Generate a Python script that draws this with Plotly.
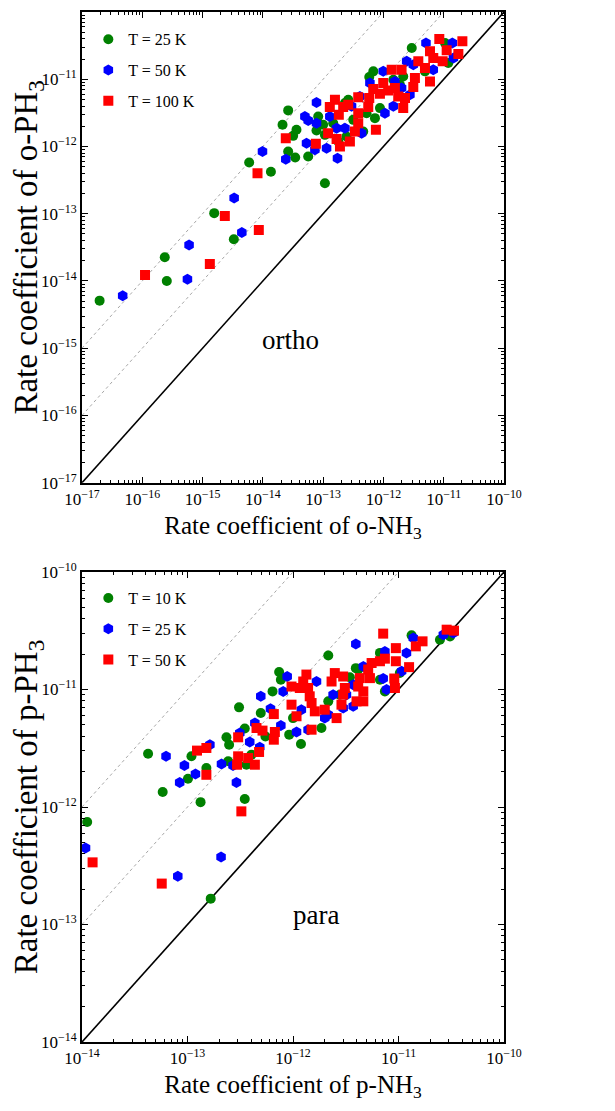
import plotly.graph_objects as go

# ---------------- ortho (top panel) ----------------
o_25K_nh3 = [2.95e-12, 1.05e-11, 6.8e-13, 5.82e-13, 2.13e-12, 1.19e-11, 4.89e-12, 1.88e-12, 8.75e-13, 7.23e-13,
             5.25e-13, 2.61e-13, 2.30e-13, 3.16e-13, 8.28e-14, 1.0e-13, 7.76e-14, 1.07e-13, 1.47e-13, 2.44e-13,
             2.63e-14, 2.12e-14, 3.18e-14, 3.61e-14, 2.63e-14, 3.44e-14, 5.65e-14, 5.93e-15, 1.36e-14, 1.07e-13,
             1.56e-15, 3.3e-15, 2.36e-16, 1.96e-17, 2.55e-16, 1.46e-12, 4.62e-13, 1.78e-13]
o_25K_ph3 = [2.91e-11, 3.45e-11, 1.31e-11, 1.08e-11, 1.10e-11, 1.74e-11, 1.31e-11, 8.28e-12, 3.72e-12, 2.64e-12,
             3.13e-12, 4.95e-12, 4.42e-12, 2.49e-12, 2.80e-12, 2.1e-12, 1.73e-12, 1.49e-12, 2.22e-12, 1.41e-12,
             3.44e-12, 2.1e-12, 1.44e-12, 1.77e-12, 8.43e-13, 6.86e-13, 7.1e-13, 5.78e-13, 4.2e-13, 2.84e-13,
             1.02e-13, 4.17e-14, 2.25e-14, 5.1e-15, 1.0e-14, 9.84e-12, 1.67e-12, 1.19e-12]

o_50K_nh3 = [5.08e-12, 1.39e-11, 2.43e-12, 3.13e-12, 9.93e-13, 5.97e-13, 1.55e-12, 2.75e-12, 1.46e-12, 1.06e-12,
             4.07e-13, 4.35e-13, 2.30e-13, 1.67e-13, 1.29e-13, 7.76e-14, 4.98e-14, 5.65e-14, 7.76e-14, 5.3e-14,
             7.3e-14, 1.14e-13, 1.73e-13, 9.86e-15, 2.40e-14, 3.34e-15, 4.48e-15, 5.97e-16, 4.73e-17, 5.61e-16,
             2.0e-12, 2.96e-13, 6.71e-12, 1.45e-11]
o_50K_ph3 = [3.45e-11, 3.45e-11, 1.85e-11, 1.64e-11, 1.31e-11, 8.77e-12, 9.29e-12, 5.88e-12, 3.95e-12, 3.13e-12,
             5.55e-12, 1.58e-12, 1.87e-12, 1.87e-12, 2.8e-12, 4.52e-12, 2.8e-12, 2.44e-12, 2.22e-12, 1.12e-12,
             8.92e-13, 9.44e-13, 6.7e-13, 8.43e-13, 6.47e-13, 1.72e-13, 5.25e-14, 3.44e-14, 6.05e-15, 1.06e-14,
             7.38e-12, 3.95e-12, 1.38e-11, 2.07e-11]

o_100K_nh3 = [8.45e-12, 2.04e-11, 5.92e-12, 6.71e-12, 1.12e-11, 9.6e-12, 1.75e-11, 3.79e-12, 4.89e-12, 5.92e-12,
              3.33e-12, 3.13e-12, 1.37e-12, 2.0e-12, 9.93e-13, 1.2e-12, 1.55e-12, 1.76e-12, 2.28e-12, 8.75e-13,
              6.78e-13, 5.82e-13, 5.6e-13, 3.82e-13, 3.82e-13, 3.82e-13, 3.36e-13, 2.78e-13, 2.61e-13, 2.15e-13,
              1.57e-13, 1.29e-13, 1.82e-13, 1.21e-13, 1.67e-13, 1.9e-13, 7.5e-13, 7.57e-14, 2.40e-14, 8.15e-15,
              2.34e-15, 8.57e-15, 1.32e-15, 1.11e-16, 2.13e-12]
o_100K_ph3 = [3.96e-11, 3.66e-11, 2.6e-11, 2.07e-11, 2.69e-11, 1.85e-11, 2.37e-11, 1.85e-11, 1.47e-11, 9.29e-12,
              1.04e-11, 7.64e-12, 1.38e-11, 1.38e-11, 8.77e-12, 6.82e-12, 7.38e-12, 5.55e-12, 5.25e-12, 6.08e-12,
              7.15e-12, 5.25e-12, 3.85e-12, 5.42e-12, 3.13e-12, 2.22e-12, 1.67e-12, 1.19e-12, 4.17e-12, 3.85e-12,
              4.95e-12, 3.85e-12, 2.96e-12, 1.58e-12, 1.29e-12, 1.0e-12, 1.77e-12, 1.1e-12, 1.33e-12, 4.01e-13,
              9.29e-14, 5.74e-14, 1.79e-14, 1.23e-14, 3.72e-12]

# ---------------- para (bottom panel) ----------------
p_10K_nh3 = [1.33e-11, 2.47e-11, 3.08e-11, 2.16e-12, 6.67e-12, 7.43e-12, 6.67e-12, 1.03e-11, 3.94e-12, 3.46e-12,
             7.39e-13, 7.67e-13, 6.4e-13, 1.0e-12, 9.2e-13, 1.19e-12, 1.86e-12, 2.16e-12, 2.78e-12, 3.08e-13,
             4.95e-13, 5.48e-13, 3.49e-13, 2.34e-13, 2.48e-13, 2.43e-13, 3.62e-13, 4.04e-13, 1.09e-13, 1.01e-13,
             1.51e-13, 4.23e-14, 5.82e-14, 1.33e-13, 3.49e-13, 1.12e-14, 1.66e-13, 4.15e-12]
p_10K_ph3 = [2.89e-11, 2.65e-11, 2.83e-11, 1.95e-11, 1.21e-11, 9.64e-12, 2.05e-11, 1.38e-11, 1.52e-11, 1.27e-11,
             1.41e-11, 1.21e-11, 9.64e-12, 5.71e-12, 4.13e-12, 3.44e-12, 4.7e-12, 7.93e-12, 9.04e-12, 7.05e-12,
             6.31e-12, 3.99e-12, 4.65e-12, 3.92e-12, 3.39e-12, 2.45e-12, 2.29e-12, 2.79e-12, 2.7e-12, 1.74e-12,
             2.15e-12, 2.84e-12, 1.34e-12, 1.1e-12, 1.17e-12, 7.45e-13, 1.66e-13, 1.48e-11]

p_25K_nh3 = [2.66e-11, 3.3e-11, 1.38e-11, 3.94e-12, 7.43e-12, 1.19e-11, 1.07e-11, 7.71e-12, 7.16e-12, 4.64e-12,
             3.72e-12, 3.21e-12, 2.99e-12, 3.72e-12, 2.4e-12, 2.16e-12, 1.67e-12, 8.81e-13, 8.07e-13, 1.2e-12,
             1.08e-12, 1.39e-12, 4.95e-13, 6.12e-13, 7.67e-13, 4.35e-13, 3.13e-13, 3.89e-13, 4.84e-13, 2.1e-13,
             2.7e-13, 1.63e-13, 9.35e-14, 1.19e-13, 8.43e-14, 6.26e-14, 2.91e-13, 1.08e-14, 8.09e-14, 2.08e-13,
             2.0e-12]
p_25K_ph3 = [2.93e-11, 3.03e-11, 2.74e-11, 2.44e-11, 2.11e-11, 2.05e-11, 1.43e-11, 9.98e-12, 1.24e-11, 1.57e-11,
             1.1e-11, 9.04e-12, 6.97e-12, 7.19e-12, 9.04e-12, 6.11e-12, 1.17e-11, 1.29e-11, 9.64e-12, 6.73e-12,
             4.35e-12, 4.55e-12, 8.75e-12, 6.87e-12, 4.95e-12, 5.19e-12, 4.27e-12, 3.57e-12, 3.22e-12, 2.32e-12,
             2.26e-12, 3.39e-12, 2.26e-12, 1.91e-12, 1.62e-12, 2.7e-12, 1.62e-12, 4.48e-13, 2.57e-13, 3.75e-13,
             5.71e-12]

p_50K_nh3 = [2.86e-11, 3.36e-11, 7.16e-12, 1.69e-11, 1.46e-11, 9.44e-12, 9.44e-12, 7.43e-12, 6.67e-12, 1.26e-11,
             9.12e-12, 9.25e-12, 5.56e-12, 5.16e-12, 5.36e-12, 4.3e-12, 4.15e-12, 4.64e-12, 4.0e-12, 4.64e-12,
             2.99e-12, 2.88e-12, 3.1e-12, 2.59e-12, 2.49e-12, 2.99e-12, 2.32e-12, 2.0e-12, 1.61e-12, 1.34e-12,
             1.25e-12, 1.39e-12, 1.44e-12, 1.5e-12, 1.16e-12, 9.68e-13, 9.68e-13, 1.08e-12, 1.5e-12, 6.58e-13,
             6.73e-13, 6.58e-13, 4.51e-13, 5.14e-13, 3.02e-13, 1.51e-13, 1.23e-13, 1.51e-13, 3.02e-13, 2.95e-13,
             3.76e-13, 4.35e-13, 4.77e-13, 3.24e-13, 1.26e-14, 5.7e-14]
p_50K_ph3 = [3.23e-11, 3.17e-11, 2.99e-11, 2.57e-11, 2.33e-11, 2.25e-11, 1.74e-11, 1.83e-11, 1.74e-11, 1.55e-11,
             1.24e-11, 1.03e-11, 1.68e-11, 1.48e-11, 1.25e-11, 1.25e-11, 1.06e-11, 9.64e-12, 7.93e-12, 7.93e-12,
             9.04e-12, 7.43e-12, 1.03e-11, 5.71e-12, 1.38e-11, 1.29e-11, 1.17e-11, 6.73e-12, 6.52e-12, 1.34e-11,
             1.17e-11, 1.03e-11, 8.75e-12, 7.67e-12, 1.03e-11, 1.06e-11, 7.43e-12, 5.92e-12, 4.55e-12, 6.18e-12,
             4.35e-12, 3.74e-12, 4.7e-12, 4.47e-12, 3.92e-12, 3.18e-12, 3.02e-12, 1.88e-12, 2.7e-12, 2.29e-12,
             2.61e-12, 2.29e-12, 2.94e-12, 9.18e-13, 3.38e-13, 2.23e-13]

# axis decades and labels
top_decades = [-17, -16, -15, -14, -13, -12, -11, -10]
bot_decades = [-14, -13, -12, -11, -10]
ratios = [1, 10, 100]  # reference lines y = k * x

FONT = "Liberation Serif"
GREEN, BLUE, RED = "#008000", "#0000ff", "#ff0000"

def sup(n):
    return "10<sup>" + str(n).replace("-", "\u2212") + "</sup>"

def minor_vals(decs):
    return [k * 10.0 ** d for d in decs[:-1] for k in range(2, 10)]

fig = go.Figure()

def add_lines(xa, ya, decs):
    lo, hi = 10.0 ** decs[0], 10.0 ** decs[-1]
    for k in ratios:
        fig.add_trace(go.Scatter(
            x=[lo, hi], y=[k * lo, k * hi], mode="lines", xaxis=xa, yaxis=ya, showlegend=False,
            hoverinfo="skip",
            line=dict(color="black", width=1.6) if k == 1 else dict(color="#808080", width=0.7, dash="dot")))

add_lines("x", "y", top_decades)
add_lines("x2", "y2", bot_decades)

def add_series(xs, ys, name, color, symbol, size, xa, ya, legend):
    fig.add_trace(go.Scatter(
        x=xs, y=ys, mode="markers", name=name, xaxis=xa, yaxis=ya, legend=legend, legendgroup=name + legend,
        marker=dict(color=color, symbol=symbol, size=size, line=dict(width=0))))

add_series(o_25K_nh3, o_25K_ph3, "T = 25 K", GREEN, "circle", 10, "x", "y", "legend")
add_series(o_50K_nh3, o_50K_ph3, "T = 50 K", BLUE, "hexagon", 11, "x", "y", "legend")
add_series(o_100K_nh3, o_100K_ph3, "T = 100 K", RED, "square", 10, "x", "y", "legend")
add_series(p_10K_nh3, p_10K_ph3, "T = 10 K", GREEN, "circle", 10, "x2", "y2", "legend2")
add_series(p_25K_nh3, p_25K_ph3, "T = 25 K", BLUE, "hexagon", 11, "x2", "y2", "legend2")
add_series(p_50K_nh3, p_50K_ph3, "T = 50 K", RED, "square", 10, "x2", "y2", "legend2")

def axis(decs, title, tfont, standoff, anchor, domain):
    return dict(
        type="log", range=[decs[0], decs[-1]], domain=domain, anchor=anchor, automargin=False,
        tickvals=[10.0 ** d for d in decs], ticktext=[sup(d) for d in decs],
        ticks="inside", ticklen=6, tickwidth=1.2, tickcolor="black",
        minor=dict(tickvals=minor_vals(decs), ticks="inside", ticklen=3, tickwidth=1, tickcolor="black"),
        showline=True, linewidth=2, linecolor="black", mirror="allticks",
        showgrid=False, zeroline=False,
        tickfont=dict(family=FONT, size=17, color="black"),
        title=dict(text=title, font=dict(family=FONT, size=tfont, color="black"), standoff=standoff),
    )

top_dom = [0.543, 1.0]
bot_dom = [0.0, 0.4563]

leg_common = dict(font=dict(family=FONT, size=16, color="black"), bgcolor="rgba(0,0,0,0)",
                  borderwidth=0, traceorder="grouped", tracegroupgap=7, itemsizing="trace",
                  xanchor="left", yanchor="top")

fig.update_layout(
    width=615, height=1111,
    margin=dict(l=74, r=119, t=4, b=77),
    paper_bgcolor="white", plot_bgcolor="white",
    font=dict(family=FONT, color="black"),
    xaxis=axis(top_decades, "Rate coefficient of o-NH<sub>3</sub>", 25, 8, "y", [0, 1]),
    yaxis=axis(top_decades, "Rate coefficient of o-PH<sub>3</sub>", 33, 4, "x", top_dom),
    xaxis2=axis(bot_decades, "Rate coefficient of p-NH<sub>3</sub>", 25, 8, "y2", [0, 1]),
    yaxis2=axis(bot_decades, "Rate coefficient of p-PH<sub>3</sub>", 33, 4, "x2", bot_dom),
    legend=dict(x=0.015, y=0.99, **leg_common),
    legend2=dict(x=0.015, y=0.4475, **leg_common),
    showlegend=True,
    annotations=[
        dict(text="ortho", x=-13.54, y=-14.88, xref="x", yref="y", showarrow=False,
             font=dict(family=FONT, size=27, color="black")),
        dict(text="para", x=-11.78, y=-12.92, xref="x2", yref="y2", showarrow=False,
             font=dict(family=FONT, size=27, color="black")),
    ],
)

fig.write_html("out.html")
